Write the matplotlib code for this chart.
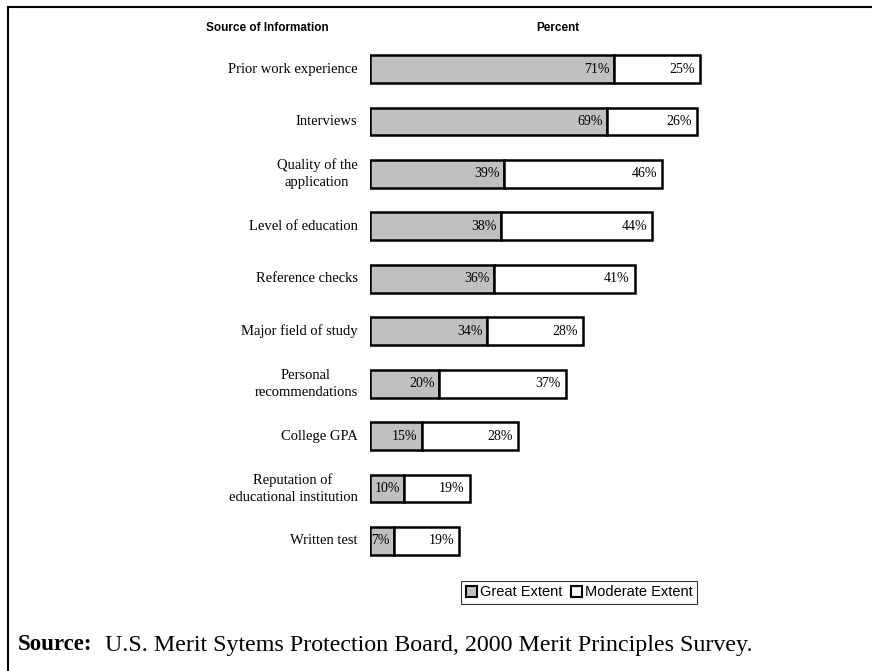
import matplotlib.pyplot as plt
from matplotlib.patches import Rectangle
from matplotlib.lines import Line2D

categories = ["Prior work experience", "Interviews", "Quality of the\napplication",
              "Level of education", "Reference checks", "Major field of study",
              "Personal\nrecommendations", "College GPA",
              "Reputation of\neducational institution", "Written test"]
great = [71, 69, 39, 38, 36, 34, 20, 15, 10, 7]
moderate = [25, 26, 46, 44, 41, 28, 37, 28, 19, 19]

W, H = 872, 671
fig = plt.figure(figsize=(W / 100, H / 100), dpi=100)

# axes in pixel terms
ax_left, ax_right = 370, 370 + 100 * 3.437
ax_top, ax_bot = 42.8, 567.2
ax = fig.add_axes([ax_left / W, 1 - ax_bot / H, (ax_right - ax_left) / W, (ax_bot - ax_top) / H])

y = list(range(len(categories)))
ax.barh(y, great, height=0.53, color="#c0c0c0", edgecolor="black", linewidth=1.8)
ax.barh(y, moderate, left=great, height=0.53, color="white", edgecolor="black", linewidth=1.8)
ax.set_xlim(0, 100)
ax.set_ylim(len(categories) - 0.5, -0.5)
ax.axis("off")

serif = "Liberation Serif"
for i, (g, m) in enumerate(zip(great, moderate)):
    ax.annotate(f"{g}%", (g, i), xytext=(-3, 0), textcoords="offset points",
                ha="right", va="center", fontsize=10, family=serif)
    ax.annotate(f"{m}%", (g + m, i), xytext=(-3.5, 0), textcoords="offset points",
                ha="right", va="center", fontsize=10, family=serif)
    ax.annotate(categories[i], (0, i), xytext=(-9, 0), textcoords="offset points",
                ha="right", va="center", fontsize=10.5, family=serif,
                multialignment="center", linespacing=1.4)

# headers
fig.text(267 / W, 1 - 28 / H, "Source of Information", ha="center", va="center",
         fontsize=8.5, fontweight="bold", family="Liberation Sans")
fig.text(558 / W, 1 - 28 / H, "Percent", ha="center", va="center",
         fontsize=8.5, fontweight="bold", family="Liberation Sans")

# legend
leg_handles = [Rectangle((0, 0), 1, 1, facecolor="#c0c0c0", edgecolor="black", linewidth=1.5),
               Rectangle((0, 0), 1, 1, facecolor="white", edgecolor="black", linewidth=1.5)]
leg = fig.legend(leg_handles, ["Great Extent", "Moderate Extent"], ncol=2,
                 loc="center", bbox_to_anchor=(579 / W, 1 - 592.5 / H),
                 frameon=True, fancybox=False, edgecolor="black", handlelength=0.75,
                 handleheight=0.75, handletextpad=0.2, columnspacing=0.6,
                 borderpad=0.3, prop={"family": "Liberation Sans", "size": 10.5})
leg.get_frame().set_linewidth(0.8)

# outer border (top and left)
fig.add_artist(Line2D([8 / W, 1], [1 - 7 / H, 1 - 7 / H], color="black", linewidth=1.5))
fig.add_artist(Line2D([8 / W, 8 / W], [0, 1 - 7 / H], color="black", linewidth=1.5))

# source note
fig.text(18 / W, 1 - 645 / H, "Source:", ha="left", va="center", fontsize=16.5,
         fontweight="bold", family=serif)
fig.text(105 / W, 1 - 645 / H, "U.S. Merit Sytems Protection Board, 2000 Merit Principles Survey.",
         ha="left", va="center", fontsize=17.3, family=serif)

fig.savefig("out.png", dpi=100)
